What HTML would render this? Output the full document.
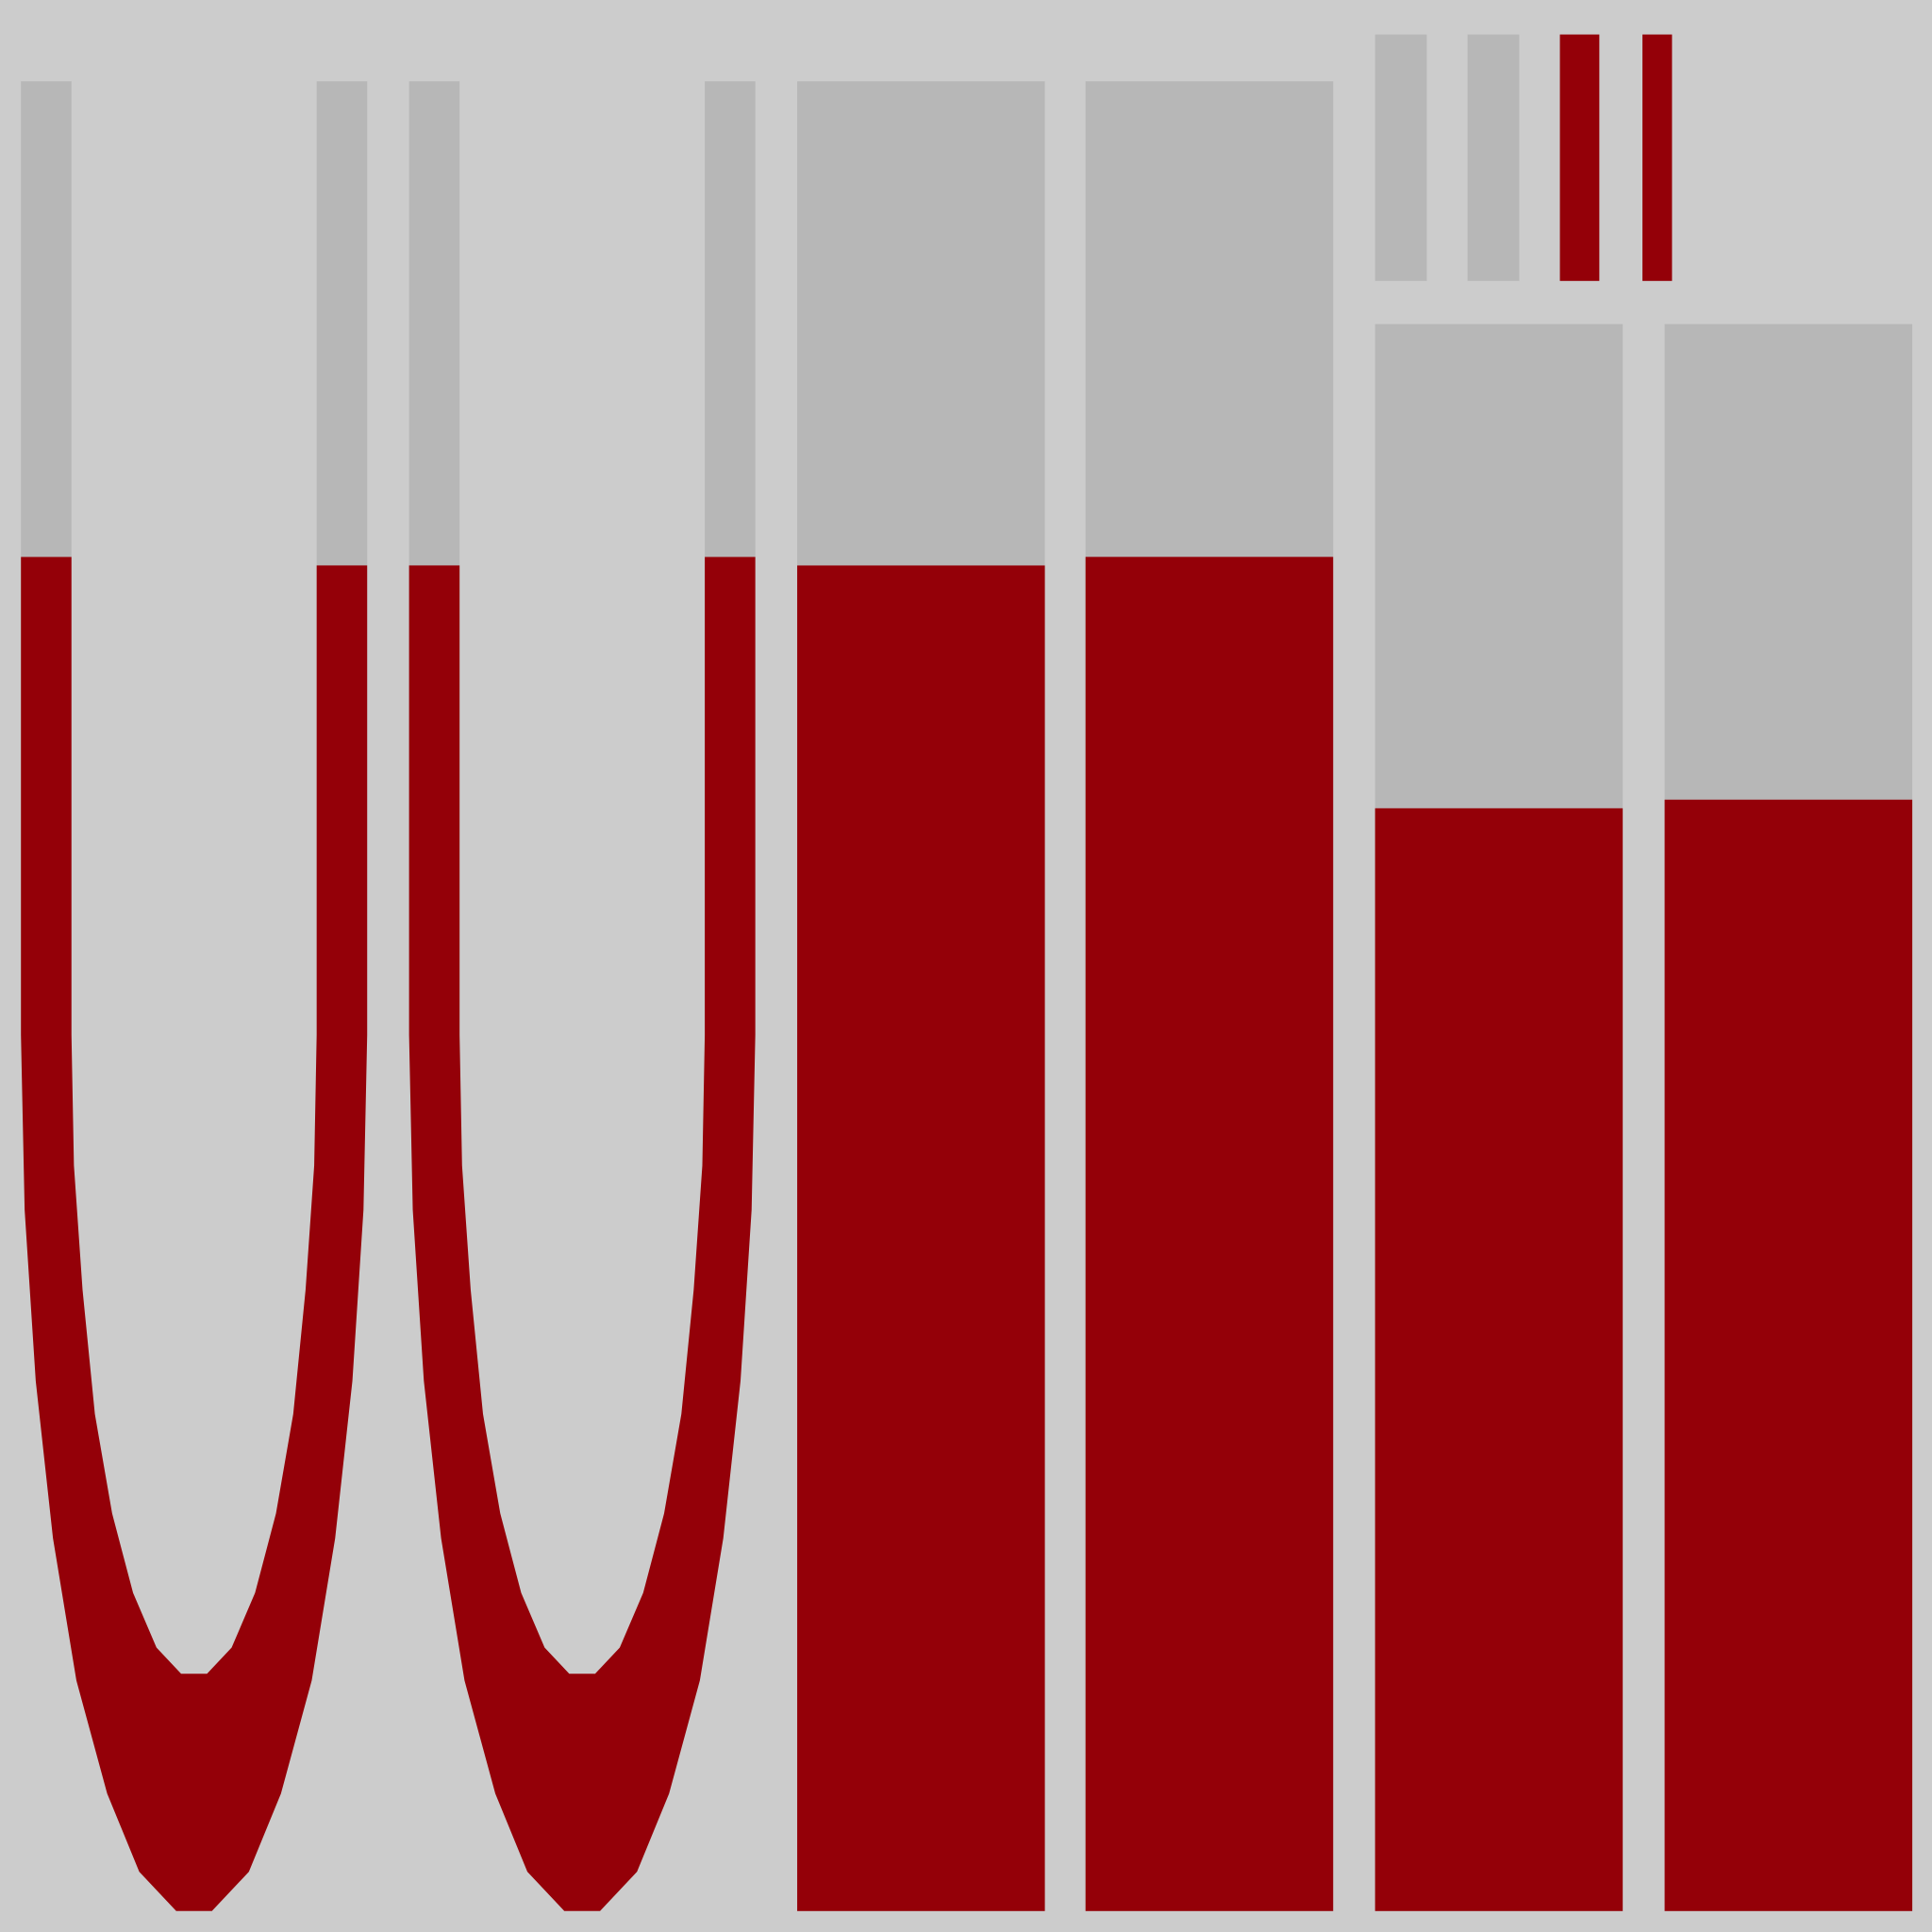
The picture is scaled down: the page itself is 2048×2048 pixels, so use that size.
<!DOCTYPE html>
<html><head><meta charset="utf-8"><style>
html,body{margin:0;padding:0;background:#cccccc;}
svg{display:block;}
</style></head><body>
<svg id="chart" width="2048" height="2048" viewBox="0 0 1568 1568" xmlns="http://www.w3.org/2000/svg">
<rect x="0" y="0" width="1568" height="1568" fill="#cccccc"/>
<g id="marks"></g>
</svg>
<script>
// ---- data ----
// main bars: fraction of the column that is red (filled)
const barLabels = ["u1-left","u1-right","u2-left","u2-right","bar-a","bar-b"];
const barFilled = [0.7401, 0.7354, 0.7354, 0.7401, 0.7354, 0.7401];
const rightBarLabels = ["bar-c","bar-d"];
const rightBarFilled = [0.6949, 0.7003];
const smallLabels = ["small-1","small-2","small-3","small-4"];
const smallFilled = [0, 0, 1, 1];
// U-curve profile: depth (0 = start of curve, 1 = bottom), outer & inner wall offsets
const uDepth   = [0, 0.1996, 0.3950, 0.5744, 0.7368, 0.8659, 0.9552, 1.0];
const uOuterIn = [0, 3, 12, 26, 45, 70, 96, 126];
const uInnerDepth = [0, 0.1489, 0.2908, 0.4326, 0.5461, 0.6369, 0.6993, 0.7291];
const uInnerIn = [0, 2, 9, 19, 33, 50, 69, 89];

// ---- scales ----
const NS = "http://www.w3.org/2000/svg";
const g = document.getElementById("marks");
const GRAY = "#b7b7b7", RED = "#940008";
const colTop = 66, colBot = 1551;
const yCol = f => colBot - f * (colBot - colTop);
const rTop = 263;
const yR = f => colBot - f * (colBot - rTop);
const sTop = 28, sBot = 228;
const curveTop = 840, curveBot = 1551;
const yCurve = d => curveTop + d * (curveBot - curveTop);

function rect(x, y, w, h, fill, name) {
  const r = document.createElementNS(NS, "rect");
  r.setAttribute("x", x); r.setAttribute("y", y);
  r.setAttribute("width", w); r.setAttribute("height", Math.max(0, h));
  r.setAttribute("fill", fill);
  
  
  g.appendChild(r);
  return r;
}

// U shapes
const uStarts = [17, 332];
const uWidth = 281, wallW = 41;
uStarts.forEach((x0, ui) => {
  const x1 = x0 + uWidth;
  const li = ui * 2, ri = ui * 2 + 1;
  rect(x0, colTop, wallW, yCol(barFilled[li]) - colTop, GRAY, "u" + (ui+1) + "-left-gray");
  rect(x1 - wallW, colTop, wallW, yCol(barFilled[ri]) - colTop, GRAY, "u" + (ui+1) + "-right-gray");
  let pts = [];
  const yl = yCol(barFilled[li]), yr = yCol(barFilled[ri]);
  pts.push([x0, yl]);
  for (let i = 0; i < uDepth.length; i++) pts.push([x0 + uOuterIn[i], yCurve(uDepth[i])]);
  for (let i = uDepth.length - 1; i >= 0; i--) pts.push([x1 - uOuterIn[i], yCurve(uDepth[i])]);
  pts.push([x1, yr]);
  pts.push([x1 - wallW, yr]);
  for (let i = 0; i < uInnerDepth.length; i++) pts.push([x1 - wallW - uInnerIn[i], yCurve(uInnerDepth[i])]);
  for (let i = uInnerDepth.length - 1; i >= 0; i--) pts.push([x0 + wallW + uInnerIn[i], yCurve(uInnerDepth[i])]);
  pts.push([x0 + wallW, yl]);
  const p = document.createElementNS(NS, "polygon");
  p.setAttribute("points", pts.map(q => q[0].toFixed(1) + "," + q[1].toFixed(1)).join(" "));
  p.setAttribute("fill", RED);
  
  
  g.appendChild(p);
});

// wide bars
const wideX = [647, 881];
wideX.forEach((x, i) => {
  const f = barFilled[4 + i];
  rect(x, colTop, 201, yCol(f) - colTop, GRAY, barLabels[4+i] + "-gray");
  rect(x, yCol(f), 201, colBot - yCol(f), RED, barLabels[4+i] + "-red");
});

// right bars
const rX = [1116, 1351];
rX.forEach((x, i) => {
  const f = rightBarFilled[i];
  rect(x, rTop, 201, yR(f) - rTop, GRAY, rightBarLabels[i] + "-gray");
  rect(x, yR(f), 201, colBot - yR(f), RED, rightBarLabels[i] + "-red");
});

// small bars
const sX = [1116, 1191, 1266, 1333];
const sW = [42, 42, 32, 24];
smallLabels.forEach((n, i) => {
  rect(sX[i], sTop, sW[i], sBot - sTop, smallFilled[i] ? RED : GRAY, n);
});
</script>
</body></html>
